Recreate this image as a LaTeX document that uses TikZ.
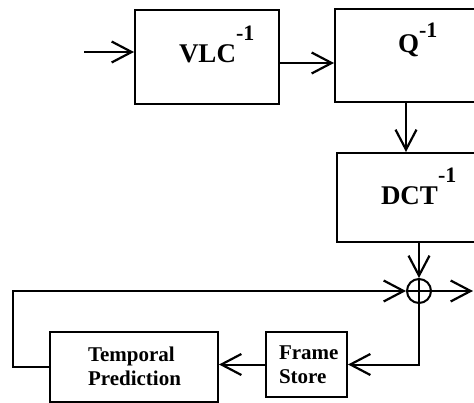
\documentclass[tikz,border=0pt]{standalone}
\usepackage{fontspec}
\setmainfont{Liberation Serif}
\usetikzlibrary{arrows.meta}
\newcommand\supone[1]{\raisebox{#1}{\fontsize{22}{22}\selectfont -1}}
\begin{document}
\begin{tikzpicture}[x=1pt,y=-1pt,
  line width=2pt,
  >={Straight Barb[length=20pt,width=21pt,line width=2.2pt]},
  blockbox/.style={draw,rectangle,inner sep=0pt},
  biglabel/.style={inner sep=0pt,anchor=base west,font=\fontsize{27}{30}\selectfont\bfseries},
  smalllabel/.style={inner sep=0pt,align=left,font=\fontsize{21}{24}\selectfont\bfseries}]
\clip (0,0) rectangle (474,403);
% boxes
\node[blockbox,minimum width=144pt,minimum height=94pt] (vlc) at (207,57) {};
\node[blockbox,minimum width=165pt,minimum height=93pt] (qbox) at (417.5,55.5) {};
\node[blockbox,minimum width=163pt,minimum height=89pt] (dct) at (418.5,197.5) {};
\node[blockbox,minimum width=168pt,minimum height=70pt] (tp) at (134,367) {};
\node[blockbox,minimum width=81pt,minimum height=65pt] (fs) at (306.5,364.5) {};
\node[draw,circle,minimum size=24pt,inner sep=0pt] (sum) at (419,291) {};
\draw (sum.north) -- (sum.south) (sum.west) -- (sum.east);
% labels
\node[biglabel] (vlct) at (178,63) {VLC\supone{22pt}};
\node[biglabel] (qt) at (397,53) {Q\supone{15pt}};
\node[biglabel] (dctt) at (380,205) {DCT\supone{22pt}};
\node[smalllabel,anchor=north west] (tpt) at (87,346) {Temporal\\Prediction};
\node[smalllabel,anchor=north west] (fst) at (278,345) {Frame\\Store};
% coordinates
\coordinate (in) at (84,52);
\coordinate (y63) at (0,63);
\coordinate (qd) at (406,0);
\coordinate (out) at (473,291);
% connectors
\draw[->] (in) -- (in -| vlc.west);
\draw[->] (vlc.east |- y63) -- (qbox.west |- y63);
\draw[->] (qbox.south -| qd) -- (dct.north -| qd);
\draw[->] (dct.south -| sum) -- (sum.north);
\draw[->] (sum.east) -- (out);
\draw[->] (tp.west) -- ++(-36,0) |- (sum.west);
\draw[->] (sum.south) |- (fs.east);
\draw[->] (fs.west) -- (fs.west -| tp.east);
\end{tikzpicture}
\end{document}
